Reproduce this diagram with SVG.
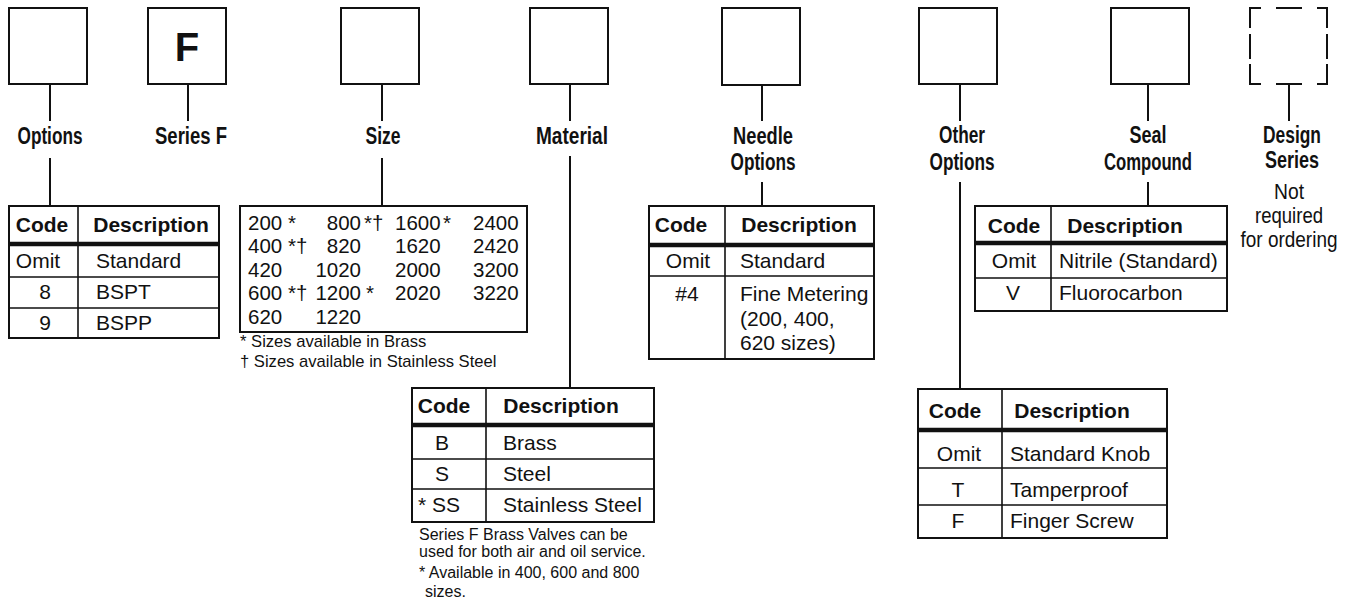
<svg xmlns="http://www.w3.org/2000/svg" width="1351" height="607" viewBox="0 0 1351 607">
<style>
.box{fill:#fff;stroke:#111;stroke-width:2}
.ln{stroke:#111;stroke-width:2;fill:none}
.tb{fill:#fff;stroke:#111;stroke-width:2}
.il{stroke:#111;stroke-width:1.6;fill:none}
.hl{stroke:#111;stroke-width:4.5;fill:none}
.lbl{font-family:"Liberation Sans Narrow","Liberation Sans",Arial,sans-serif;font-weight:bold;font-size:23px;fill:#111;text-anchor:middle}
.lr{font-family:"Liberation Sans Narrow","Liberation Sans",Arial,sans-serif;font-size:21.5px;fill:#111;text-anchor:middle}
.h{font-family:"Liberation Sans",Arial,sans-serif;font-weight:bold;font-size:21px;fill:#111;text-anchor:middle}
.t{font-family:"Liberation Sans",Arial,sans-serif;font-size:21px;fill:#111}
.c{text-anchor:middle}
.n{font-family:"Liberation Sans",Arial,sans-serif;font-size:20.5px;fill:#111}
.e{text-anchor:end}
.fn{font-family:"Liberation Sans",Arial,sans-serif;font-size:16px;fill:#111}
.fs{font-size:16.6px}
.big{font-family:"Liberation Sans",Arial,sans-serif;font-weight:bold;font-size:40px;fill:#111;text-anchor:middle}
</style>

<g id="connectors">
<path class="ln" d="M50,84V121M188,84V121M382,84V121M570,84V121M762,84V121M960,84V121M1148,84V121M1289,84V121"/>
<path class="ln" d="M50,158V205M382,158V205M570,156V387M762,182V205M960,182V388M1148,182V205"/>
</g>

<g id="box-options"><rect class="box" x="9" y="8" width="78" height="76"/><text class="lbl" x="50" y="144" textLength="65" lengthAdjust="spacingAndGlyphs">Options</text></g>
<g id="box-series"><rect class="box" x="148" y="8" width="78" height="76"/><text class="big" x="187" y="61">F</text><text class="lbl" x="191" y="144" textLength="72" lengthAdjust="spacingAndGlyphs">Series F</text></g>
<g id="box-size"><rect class="box" x="341" y="8" width="78" height="76"/><text class="lbl" x="383" y="144" textLength="35" lengthAdjust="spacingAndGlyphs">Size</text></g>
<g id="box-material"><rect class="box" x="530" y="8" width="78" height="76"/><text class="lbl" x="572" y="144" textLength="72" lengthAdjust="spacingAndGlyphs">Material</text></g>
<g id="box-needle"><rect class="box" x="722" y="8" width="78" height="77"/><text class="lbl" x="763" y="144" textLength="60" lengthAdjust="spacingAndGlyphs">Needle</text><text class="lbl" x="763" y="170" textLength="65" lengthAdjust="spacingAndGlyphs">Options</text></g>
<g id="box-other"><rect class="box" x="919" y="8" width="78" height="76"/><text class="lbl" x="962" y="143" textLength="46" lengthAdjust="spacingAndGlyphs">Other</text><text class="lbl" x="962" y="170" textLength="65" lengthAdjust="spacingAndGlyphs">Options</text></g>
<g id="box-seal"><rect class="box" x="1111" y="8" width="78" height="76"/><text class="lbl" x="1148" y="143" textLength="37" lengthAdjust="spacingAndGlyphs">Seal</text><text class="lbl" x="1148" y="170" textLength="88" lengthAdjust="spacingAndGlyphs">Compound</text></g>
<g id="box-design">
<path class="ln" d="M1250,28V8H1261M1276,8H1302M1317,8H1327V28M1250,34V59M1327,34V59M1250,64V84H1261M1276,84H1302M1317,84H1327V64"/>
<text class="lbl" x="1292" y="143" textLength="58" lengthAdjust="spacingAndGlyphs">Design</text>
<text class="lbl" x="1292" y="168" textLength="54" lengthAdjust="spacingAndGlyphs">Series</text>
<text class="lr" x="1289" y="199" textLength="30" lengthAdjust="spacingAndGlyphs">Not</text>
<text class="lr" x="1289" y="223" textLength="68" lengthAdjust="spacingAndGlyphs">required</text>
<text class="lr" x="1289" y="247" textLength="97" lengthAdjust="spacingAndGlyphs">for ordering</text>
</g>

<g id="table-options">
<rect class="tb" x="9" y="206" width="210" height="132"/>
<path class="il" d="M78,206V338M9,277H219M9,308H219"/>
<path class="hl" d="M9,244H219"/>
<text class="h" x="42" y="232">Code</text><text class="h" x="151" y="232">Description</text>
<text class="t c" x="38" y="268">Omit</text><text class="t" x="96" y="268">Standard</text>
<text class="t c" x="45" y="299">8</text><text class="t" x="96" y="299">BSPT</text>
<text class="t c" x="45" y="330">9</text><text class="t" x="96" y="330">BSPP</text>
</g>

<g id="table-size">
<rect class="tb" x="240" y="206" width="287" height="126"/>
<g class="n">
<text x="248" y="230">200</text><text x="288" y="230">*</text><text class="e" x="361" y="230">800</text><text x="364" y="230">*†</text><text x="395" y="230">1600</text><text x="443" y="230">*</text><text x="473" y="230">2400</text>
<text x="248" y="253">400</text><text x="288" y="253">*†</text><text class="e" x="361" y="253">820</text><text x="395" y="253">1620</text><text x="473" y="253">2420</text>
<text x="248" y="277">420</text><text class="e" x="361" y="277">1020</text><text x="395" y="277">2000</text><text x="473" y="277">3200</text>
<text x="248" y="300">600</text><text x="288" y="300">*†</text><text class="e" x="361" y="300">1200</text><text x="366" y="300">*</text><text x="395" y="300">2020</text><text x="473" y="300">3220</text>
<text x="248" y="324">620</text><text class="e" x="361" y="324">1220</text>
</g>
<text class="fn fs" x="240" y="347">* Sizes available in Brass</text>
<text class="fn fs" x="240" y="367">† Sizes available in Stainless Steel</text>
</g>

<g id="table-material">
<rect class="tb" x="412" y="388" width="242" height="134"/>
<path class="il" d="M486,388V522M412,459H654M412,489H654"/>
<path class="hl" d="M412,425H654"/>
<text class="h" x="444" y="413">Code</text><text class="h" x="561" y="413">Description</text>
<text class="t c" x="442" y="450">B</text><text class="t" x="503" y="450">Brass</text>
<text class="t c" x="442" y="481">S</text><text class="t" x="503" y="481">Steel</text>
<text class="t" x="418" y="512">* SS</text><text class="t" x="503" y="512">Stainless Steel</text>
<text class="fn" x="419" y="540">Series F Brass Valves can be</text>
<text class="fn" x="419" y="557">used for both air and oil service.</text>
<text class="fn" x="419" y="578">* Available in 400, 600 and 800</text>
<text class="fn" x="425" y="597">sizes.</text>
</g>

<g id="table-needle">
<rect class="tb" x="649" y="206" width="225" height="153"/>
<path class="il" d="M725,206V359M649,276H874"/>
<path class="hl" d="M649,245H874"/>
<text class="h" x="681" y="232">Code</text><text class="h" x="799" y="232">Description</text>
<text class="t c" x="688" y="268">Omit</text><text class="t" x="740" y="268">Standard</text>
<text class="t c" x="687" y="301">#4</text><text class="t" x="740" y="301">Fine Metering</text>
<text class="t" x="740" y="326">(200, 400,</text>
<text class="t" x="740" y="350">620 sizes)</text>
</g>

<g id="table-other">
<rect class="tb" x="918" y="389" width="249" height="149"/>
<path class="il" d="M1002,389V538M918,468H1167M918,505H1167"/>
<path class="hl" d="M918,430H1167"/>
<text class="h" x="955" y="418">Code</text><text class="h" x="1072" y="418">Description</text>
<text class="t c" x="959" y="461">Omit</text><text class="t" x="1010" y="461">Standard Knob</text>
<text class="t c" x="958" y="497">T</text><text class="t" x="1010" y="497">Tamperproof</text>
<text class="t c" x="958" y="528">F</text><text class="t" x="1010" y="528">Finger Screw</text>
</g>

<g id="table-seal">
<rect class="tb" x="975" y="206" width="252" height="105"/>
<path class="il" d="M1051,206V311M975,278H1227"/>
<path class="hl" d="M975,243H1227"/>
<text class="h" x="1014" y="233">Code</text><text class="h" x="1125" y="233">Description</text>
<text class="t c" x="1014" y="268">Omit</text><text class="t" x="1059" y="268">Nitrile (Standard)</text>
<text class="t c" x="1013" y="300">V</text><text class="t" x="1059" y="300">Fluorocarbon</text>
</g>
</svg>
